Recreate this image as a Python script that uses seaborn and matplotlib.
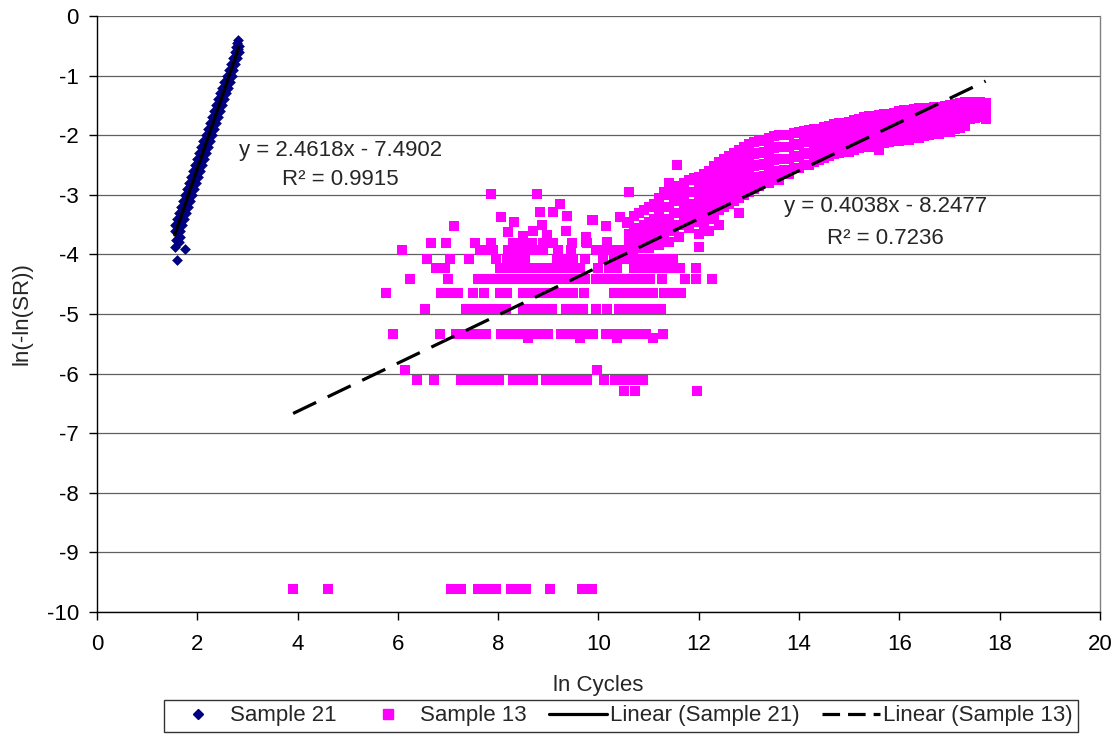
import numpy as np
import pandas as pd
import matplotlib
matplotlib.use("Agg")
import matplotlib.pyplot as plt
import seaborn as sns
from matplotlib.lines import Line2D

# ---- data ----
# Sample 21 (blue diamonds): a narrow chain, read as left / middle / right points per level
s21_levels = [-3.6, -3.5, -3.4, -3.3, -3.2, -3.1, -3.0, -2.9, -2.8, -2.7, -2.6, -2.5, -2.4,
              -2.3, -2.2, -2.1, -2.0, -1.9, -1.8, -1.7, -1.6, -1.5, -1.4, -1.3, -1.2, -1.1,
              -1.0, -0.9, -0.8, -0.7, -0.6]
s21_left = [1.55, 1.56, 1.60, 1.64, 1.68, 1.72, 1.76, 1.80, 1.84, 1.88, 1.92, 1.96, 2.00,
            2.04, 2.08, 2.12, 2.17, 2.21, 2.25, 2.29, 2.33, 2.37, 2.42, 2.46, 2.50, 2.54,
            2.59, 2.63, 2.67, 2.71, 2.76]
s21_mid = [1.58, 1.62, 1.66, 1.70, 1.74, 1.78, 1.82, 1.86, 1.90, 1.95, 1.99, 2.03, 2.07,
           2.11, 2.15, 2.19, 2.23, 2.27, 2.31, 2.35, 2.39, 2.43, 2.47, 2.51, 2.56, 2.60,
           2.64, 2.68, 2.72, 2.76, 2.80]
s21_right = [1.65, 1.69, 1.73, 1.77, 1.81, 1.85, 1.89, 1.93, 1.97, 2.01, 2.05, 2.09, 2.13,
             2.17, 2.21, 2.25, 2.29, 2.33, 2.37, 2.41, 2.45, 2.49, 2.53, 2.57, 2.61, 2.65,
             2.69, 2.72, 2.76, 2.80, 2.83]
s21_extra_x = [1.59, 1.55, 1.75, 1.65, 1.57, 1.63, 2.82, 2.80, 2.83, 2.78, 2.81]
s21_extra_y = [-4.09, -3.87, -3.91, -3.70, -3.75, -3.80, -0.40, -0.45, -0.50, -0.52, -0.55]

# Sample 13 (magenta squares): lower part sits on discrete levels
s13_levels = [-9.61, -6.29, -6.10, -5.94, -5.41, -5.33, -4.91, -4.64, -4.41, -4.22,
              -4.07, -3.93, -3.81]
s13_rows = [
    [3.91, 4.61, 7.05, 7.25, 7.6, 7.8, 7.95, 8.25, 8.4, 8.55, 9.03, 9.68, 9.88],
    [10.5, 10.72, 11.96],
    [6.39, 6.72, 7.25, 7.45, 7.65, 7.85, 8.02, 8.29, 8.5, 8.7, 8.95, 9.05, 9.25, 9.45,
     9.65, 9.78, 10.1, 10.33, 10.5, 10.7, 10.88],
    [6.14, 9.98],
    [8.59, 9.63, 10.36, 11.08],
    [5.91, 6.83, 7.15, 7.35, 7.55, 7.75, 8.05, 8.2, 8.4, 8.6, 8.8, 9.0, 9.25, 9.4, 9.6,
     9.75, 9.9, 10.15, 10.3, 10.5, 10.65, 10.75, 10.95, 11.29],
    [6.54, 7.35, 7.55, 7.75, 7.95, 8.15, 8.5, 8.7, 8.9, 9.08, 9.35, 9.5, 9.7, 9.95, 10.16,
     10.4, 10.5, 10.7, 10.88, 11.05, 11.25],
    [5.76, 6.85, 7.05, 7.2, 7.5, 7.72, 8.04, 8.18, 8.5, 8.7, 8.9, 9.1, 9.3, 9.5, 9.72,
     10.3, 10.5, 10.7, 10.9, 11.08, 11.3, 11.5, 11.65],
    [6.24, 7.0, 7.6, 7.8, 8.0, 8.2, 8.4, 8.6, 8.8, 9.0, 9.2, 9.37, 9.55, 9.73, 9.96, 10.15,
     10.35, 10.55, 10.75, 10.9, 11.03, 11.26, 11.72, 11.94, 12.26],
    [6.76, 6.94, 8.04, 8.24, 8.4, 8.53, 8.7, 8.9, 9.1, 9.3, 9.45, 9.63, 10.0, 10.2, 10.36,
     10.7, 10.9, 11.1, 11.3, 11.45, 11.63, 11.94],
    [6.59, 7.04, 7.42, 7.96, 8.17, 8.35, 8.53, 9.17, 9.35, 9.5, 9.73, 10.09, 10.3, 10.5,
     10.69, 10.83, 11.0, 11.2, 11.35, 11.49],
    [6.08, 7.64, 7.82, 7.9, 8.2, 8.4, 8.6, 8.75, 8.9, 9.2, 9.45, 9.96, 10.15, 10.35, 10.5,
     10.69],
    [6.65, 6.96, 7.54, 7.85, 8.3, 8.5, 8.67, 8.9, 9.1, 9.47, 9.77],
]
# loose points above the rows
s13_loose = [(7.12, -3.53), (7.85, -2.98), (8.06, -3.38), (8.19, -3.63), (8.77, -2.98),
             (9.23, -3.16), (8.83, -3.29), (9.09, -3.29), (9.37, -3.36), (8.32, -3.45),
             (8.87, -3.51), (8.2, -3.62), (8.69, -3.60), (9.35, -3.60), (8.5, -3.69),
             (8.97, -3.67), (9.88, -3.43), (10.15, -3.52), (9.75, -3.70), (10.43, -3.37),
             (10.56, -3.48), (10.16, -3.79), (9.9, -3.42), (9.76, -3.79)]
# dense band, one column of points per x
s13_cols_x = [10.6, 10.8, 11.0, 11.2, 11.4, 11.56, 11.6, 11.8, 12.0, 12.2, 12.4, 12.6, 12.8,
              13.0, 13.2, 13.4, 13.6, 13.8, 14.0, 14.2, 14.4, 14.6, 14.8, 15.0, 15.2, 15.4,
              15.6, 15.8, 16.0, 16.2, 16.4, 16.6, 16.8, 17.0, 17.2, 17.4, 17.6, 17.72]
s13_cols_y = [
    [-2.95, -3.45, -3.65, -3.8, -3.95],
    [-3.3, -3.55, -3.75, -3.9],
    [-3.2, -3.45, -3.6, -3.75, -3.9],
    [-3.05, -3.3, -3.5, -3.7, -3.85],
    [-2.8, -3.0, -3.2, -3.4, -3.6, -3.8],
    [-2.5],
    [-2.9, -3.1, -3.3, -3.5, -3.7],
    [-2.75, -2.95, -3.15, -3.35, -3.55],
    [-2.7, -2.85, -3.05, -3.25, -3.45, -3.65, -3.88],
    [-2.6, -2.8, -3.0, -3.2, -3.4, -3.6],
    [-2.45, -2.65, -2.85, -3.05, -3.25, -3.5],
    [-2.35, -2.55, -2.75, -2.95, -3.15],
    [-2.25, -2.45, -2.65, -2.85, -3.05, -3.3],
    [-2.15, -2.35, -2.55, -2.75, -2.95],
    [-2.1, -2.3, -2.5, -2.7, -2.85],
    [-2.05, -2.25, -2.45, -2.65, -2.8],
    [-2.0, -2.2, -2.4, -2.6, -2.75],
    [-2.0, -2.2, -2.4, -2.65],
    [-1.95, -2.15, -2.35, -2.55],
    [-1.92, -2.1, -2.3, -2.5],
    [-1.9, -2.05, -2.25, -2.42],
    [-1.85, -2.02, -2.2, -2.35],
    [-1.8, -1.98, -2.15, -2.3],
    [-1.78, -1.95, -2.12, -2.28],
    [-1.72, -1.9, -2.08, -2.22],
    [-1.68, -1.85, -2.02, -2.2],
    [-1.66, -1.82, -2.0, -2.25],
    [-1.64, -1.8, -1.97, -2.12],
    [-1.6, -1.78, -1.95, -2.1],
    [-1.57, -1.74, -1.9, -2.08],
    [-1.55, -1.72, -1.88, -2.05],
    [-1.54, -1.7, -1.85, -2.0],
    [-1.52, -1.68, -1.83, -1.98],
    [-1.5, -1.64, -1.8, -1.95],
    [-1.46, -1.6, -1.75, -1.88],
    [-1.44, -1.58, -1.72],
    [-1.44, -1.56, -1.7],
    [-1.46, -1.6, -1.72],
]
# second, in-between set of columns in the dense band
s13_cols2_x = [10.7, 10.9, 11.1, 11.3, 11.5, 11.7, 11.9, 12.1, 12.3, 12.5, 12.7, 12.9, 13.1,
               13.3, 13.5, 13.7, 13.9, 14.1, 14.3, 14.5, 14.7, 14.9, 15.1, 15.3, 15.5,
               15.7, 15.9, 16.1, 16.3, 16.5, 16.7, 16.9, 17.1, 17.3, 17.5]
s13_cols2_y = [
    [-3.35, -3.6, -3.85],
    [-3.25, -3.5, -3.7],
    [-3.15, -3.4, -3.65],
    [-2.95, -3.2, -3.45, -3.65],
    [-2.85, -3.05, -3.3, -3.55],
    [-2.8, -3.0, -3.25, -3.45],
    [-2.72, -2.95, -3.2, -3.4],
    [-2.65, -2.92, -3.12, -3.32, -3.52],
    [-2.52, -2.75, -2.95, -3.15, -3.38],
    [-2.4, -2.6, -2.8, -3.0, -3.2],
    [-2.3, -2.5, -2.7, -2.9, -3.1],
    [-2.2, -2.4, -2.6, -2.8, -3.0],
    [-2.12, -2.32, -2.52, -2.72, -2.9],
    [-2.08, -2.28, -2.48, -2.68],
    [-2.02, -2.22, -2.42, -2.62],
    [-2.0, -2.2, -2.4, -2.58],
    [-1.97, -2.17, -2.37, -2.55],
    [-1.93, -2.12, -2.32, -2.5],
    [-1.9, -2.08, -2.27, -2.45],
    [-1.87, -2.04, -2.22, -2.38],
    [-1.82, -2.0, -2.17, -2.32],
    [-1.79, -1.96, -2.13, -2.28],
    [-1.75, -1.92, -2.1, -2.24],
    [-1.7, -1.87, -2.05, -2.2],
    [-1.67, -1.84, -2.0, -2.15],
    [-1.65, -1.81, -1.98, -2.13],
    [-1.62, -1.79, -1.96, -2.1],
    [-1.58, -1.76, -1.92, -2.08],
    [-1.56, -1.73, -1.89, -2.05],
    [-1.55, -1.71, -1.86, -2.02],
    [-1.53, -1.69, -1.84, -1.98],
    [-1.51, -1.66, -1.81, -1.95],
    [-1.48, -1.62, -1.77, -1.9],
    [-1.45, -1.59, -1.73, -1.85],
    [-1.44, -1.57, -1.71],
]

# Excel trendlines (slope, intercept, R^2)
fit21 = (2.4618, -7.4902, 0.9915)
fit13 = (0.4038, -8.2477, 0.7236)

legend_labels = ["Sample 21", "Sample 13", "Linear (Sample 21)", "Linear (Sample 13)"]

# ---- tables ----
df21 = pd.DataFrame({
    "x": s21_left + s21_mid + s21_right + s21_extra_x,
    "y": s21_levels * 3 + s21_extra_y,
})

rows = []
for lev, xs in zip(s13_levels, s13_rows):
    rows += [(x, lev) for x in xs]
rows += s13_loose
for cx, ys in zip(s13_cols_x + s13_cols2_x, s13_cols_y + s13_cols2_y):
    rows += [(cx, y) for y in ys]
df13 = pd.DataFrame(rows, columns=["x", "y"])

# ---- plot ----
sns.set_style("ticks")
plt.rcParams['font.family'] = ['Liberation Sans', 'DejaVu Sans']
plt.rcParams['axes.unicode_minus'] = False
fs = 16

fig = plt.figure(figsize=(11.14, 7.52), dpi=100)
ax = fig.add_axes([0.0871, 0.1862, 0.9003, 0.7925])

navy = "#000080"
magenta = "#FF00FF"

sns.scatterplot(data=df21, x="x", y="y", marker="D", s=30, color=navy,
                linewidth=0, ax=ax, zorder=3, legend=False)
sns.scatterplot(data=df13, x="x", y="y", marker="s", s=60, color=magenta,
                linewidth=0, ax=ax, zorder=3, legend=False)

# trendlines over each series' x range
x21 = np.array([df21.x.min(), df21.x.max()])
ax.plot(x21, fit21[0] * x21 + fit21[1], color="black", lw=2.3, zorder=4)
x13 = np.array([df13.x.min(), df13.x.max()])
ax.plot(x13, fit13[0] * x13 + fit13[1], color="black", lw=2.3, dashes=(8, 4), zorder=4)

ax.text(4.85, -2.25, f"y = {fit21[0]}x - {-fit21[1]}", ha="center", va="center", fontsize=fs)
ax.text(4.85, -2.75, f"R² = {fit21[2]}", ha="center", va="center", fontsize=fs)
ax.text(15.73, -3.19, f"y = {fit13[0]}x - {-fit13[1]}", ha="center", va="center", fontsize=fs)
ax.text(15.73, -3.74, f"R² = {fit13[2]}", ha="center", va="center", fontsize=fs)

ax.set_xlim(0, 20)
ax.set_ylim(-10, 0)
ax.set_xticks(range(0, 21, 2))
ax.set_yticks(range(-10, 1))
ax.yaxis.grid(True, color="#606060", lw=0.9)
ax.set_axisbelow(True)
ax.tick_params(direction="out", length=6, width=1, labelsize=fs, colors="black")
ax.tick_params(axis="x", pad=10)
ax.tick_params(axis="y", pad=7)
for s in ["left", "bottom"]:
    ax.spines[s].set_color("black")
    ax.spines[s].set_linewidth(1)
ax.spines["top"].set_visible(False)
ax.spines["right"].set_color("#808080")
ax.spines["right"].set_linewidth(1)

ax.set_xlabel("ln Cycles", fontsize=fs)
ax.set_ylabel("ln(-ln(SR))", fontsize=fs)
ax.xaxis.set_label_coords(0.5, -0.105)
ax.yaxis.set_label_coords(-0.064, 0.5)

handles = [
    Line2D([], [], marker="D", color=navy, ls="none", markersize=5),
    Line2D([], [], marker="s", color=magenta, ls="none", markersize=7),
    Line2D([], [], color="black", lw=2.3),
    Line2D([], [], color="black", lw=2.3, dashes=(5.5, 2.5)),
]
fig.legend(handles, legend_labels, loc="center", bbox_to_anchor=(0.5575, 0.0479), ncol=4,
           frameon=True, fancybox=False, edgecolor="black", fontsize=fs,
           handlelength=2.6, handletextpad=0.15, columnspacing=1.0, borderpad=0.25,
           borderaxespad=0)

fig.savefig("out.png", dpi=100)
